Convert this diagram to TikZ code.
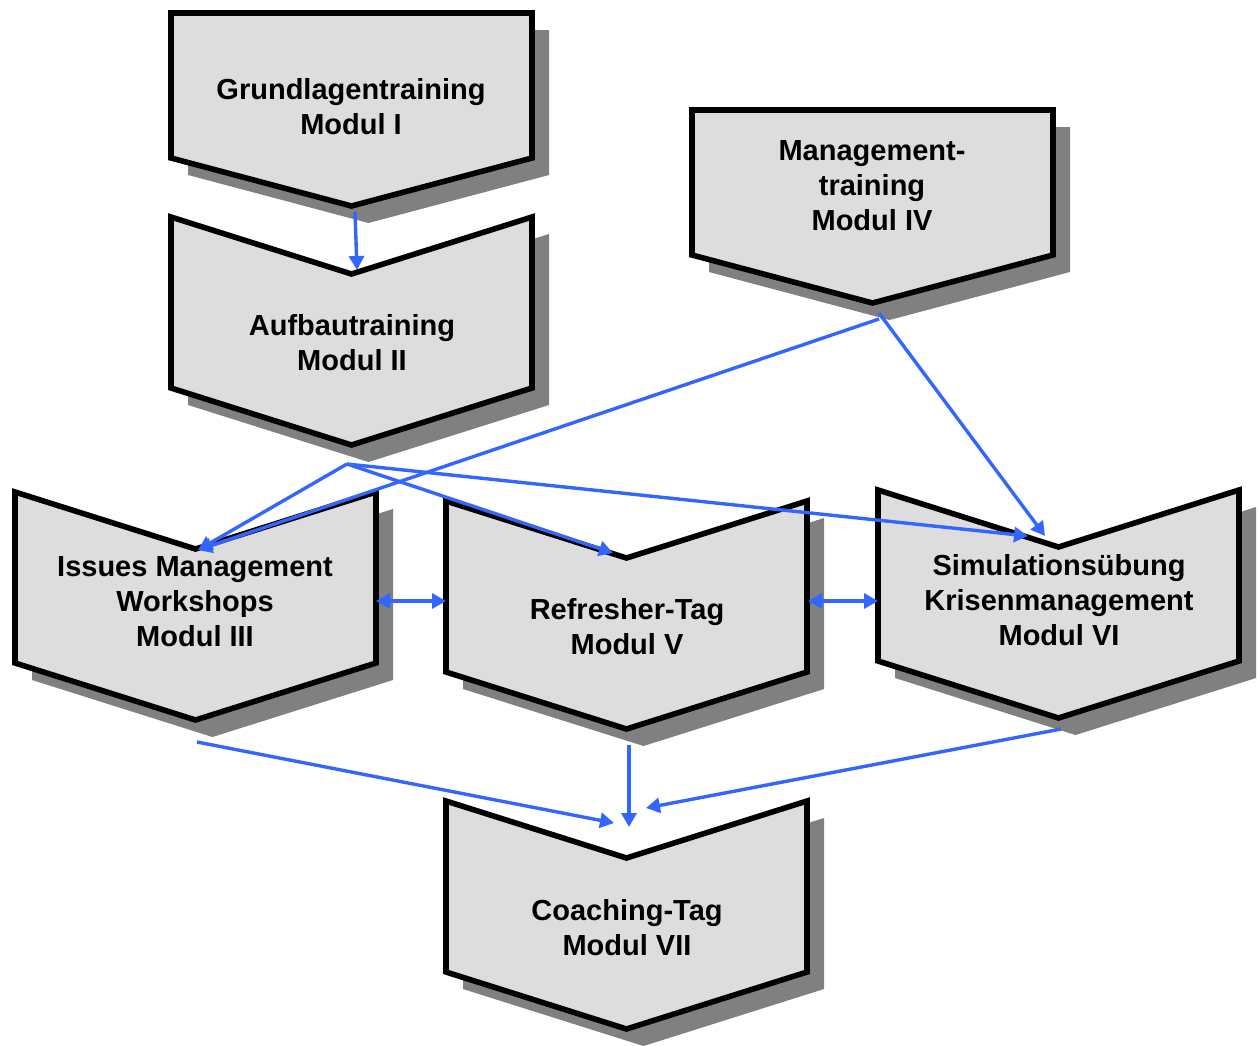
\documentclass[tikz,border=0pt]{standalone}
\usepackage{fontspec}
\setmainfont{Liberation Sans}
\usetikzlibrary{arrows.meta,positioning}
\definecolor{kastengrau}{HTML}{DDDDDD}
\definecolor{schattengrau}{HTML}{808080}
\definecolor{pfeilblau}{HTML}{3366FF}

\begin{document}
\begin{tikzpicture}[x=0.5pt,y=-0.5pt,
  kasten/.style={draw=black,line width=2.8pt,fill=kastengrau},
  titel/.style={align=center,font=\fontsize{14.5}{17.5}\selectfont\bfseries},
  pfeil/.style={draw=pfeilblau,line width=1.7pt,-{Triangle[length=7pt,width=7.5pt]}},
  doppelpfeil/.style={pfeil,{Triangle[length=7pt,width=7.5pt]}-{Triangle[length=7pt,width=7.5pt]}},
  start/.pic={
    \fill[schattengrau] (17,17) -- (378,17) -- (378,162) -- (197.5,210) -- (17,162) -- cycle;
    \draw[kasten] (0,0) -- (361,0) -- (361,145) -- (180.5,193) -- (0,145) -- cycle;
  },
  modul/.pic={
    \fill[schattengrau] (17,17) -- (197.5,74) -- (378,17) -- (378,188) -- (197.5,245) -- (17,188) -- cycle;
    \draw[kasten] (0,0) -- (180.5,57) -- (361,0) -- (361,171) -- (180.5,228) -- (0,171) -- cycle;
  }]
  \useasboundingbox (0,0) rectangle (1258,1045);

  % Kaesten
  \pic (k1) at (171,13) {start};
  \pic (k4) at (692,110) {start};
  \pic (k2) at (171,217) {modul};
  \pic (k3) at (15,492) {modul};
  \pic (k5) at (446,501) {modul};
  \pic (k6) at (878,490) {modul};
  \pic (k7) at (446,801) {modul};

  \node[titel] (m1) at (351,107) {Grundlagentraining\\Modul I};
  \node[titel] (m2) at (352,343) {Aufbautraining\\Modul II};
  \node[titel] (m4) at (872,186) {Management-\\training\\Modul IV};
  \node[titel] (m3) at (195,602) {Issues Management\\Workshops\\Modul III};
  \node[titel] (m5) at (627,627) {Refresher-Tag\\Modul V};
  \node[titel] (m6) at (1059,600) {Simulationsübung\\Krisenmanagement\\Modul VI};
  \node[titel] (m7) at (627,928) {Coaching-Tag\\Modul VII};

  % Anschlusspunkte
  \coordinate (aus1) at (355,212); \coordinate (ein2) at (357,270);
  \coordinate (aus2) at (347,464);
  \coordinate (aus4a) at (879,319); \coordinate (aus4b) at (879,313);
  \coordinate (ein3) at (198,550);
  \coordinate (ein5) at (613,553);
  \coordinate (ein6a) at (1028,536); \coordinate (ein6b) at (1045,536);
  \coordinate (ein3r) at (376,601); \coordinate (ein5l) at (446,601);
  \coordinate (ein5r) at (808,601); \coordinate (ein6l) at (878,601);
  \coordinate (aus3) at (197,742); \coordinate (aus5) at (629,745); \coordinate (aus6) at (1061,729);
  \coordinate (ein7a) at (614,823); \coordinate (ein7b) at (629,827); \coordinate (ein7c) at (646,808);

  % Pfeile
  \draw[pfeil] (aus1) -- (ein2);
  \draw[pfeil] (aus2) -- (ein3);
  \draw[pfeil] (aus2) -- (ein5);
  \draw[pfeil] (aus2) -- (ein6a);
  \draw[pfeil] (aus4a) -- (ein3);
  \draw[pfeil] (aus4b) -- (ein6b);
  \draw[doppelpfeil] (ein3r) -- (ein5l);
  \draw[doppelpfeil] (ein5r) -- (ein6l);
  \draw[pfeil] (aus3) -- (ein7a);
  \draw[pfeil] (aus5) -- (ein7b);
  \draw[pfeil] (aus6) -- (ein7c);
\end{tikzpicture}
\end{document}
